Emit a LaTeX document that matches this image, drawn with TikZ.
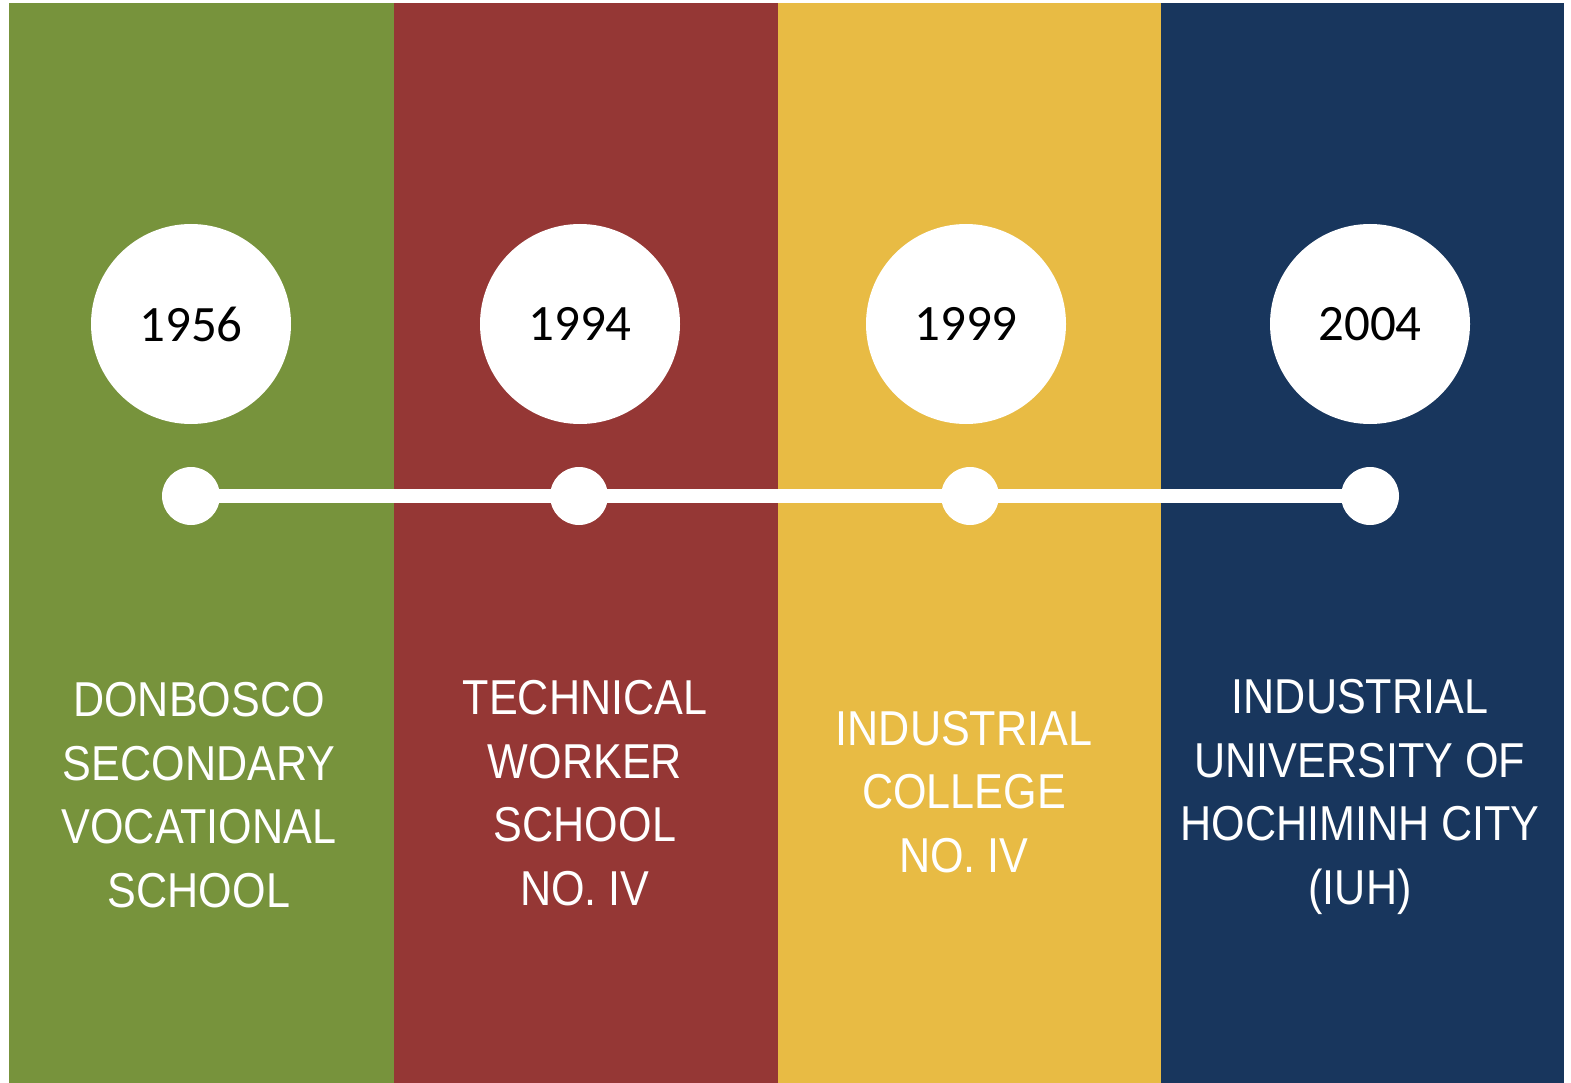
\documentclass[tikz,border=0pt]{standalone}
\usepackage{fontspec}
\newfontfamily\yearfont{Carlito}
\newfontfamily\narrowfont[FakeStretch=0.88]{Liberation Sans}
\definecolor{colgreen}{RGB}{119,147,60}
\definecolor{colred}{RGB}{149,55,53}
\definecolor{colgold}{RGB}{232,187,68}
\definecolor{colnavy}{RGB}{24,54,93}
\begin{document}
\begin{tikzpicture}[x=1pt,y=-1pt,
  year/.style={draw=none, circle, fill=white, minimum size=200pt, inner sep=0pt,
    font=\yearfont\fontsize{51}{60}\selectfont, text=black},
  dot/.style={circle, fill=white, minimum size=58pt, inner sep=0pt},
  label/.style={align=center, inner sep=0pt, text=white,
    font=\narrowfont\fontsize{49}{63.5}\selectfont}]
  \useasboundingbox (0,0) rectangle (1571,1083);

  % Columns
  \fill[colgreen] (9,3) rectangle (394,1083);
  \fill[colred] (394,3) rectangle (778,1083);
  \fill[colgold] (778,3) rectangle (1161,1083);
  \fill[colnavy] (1161,3) rectangle (1564,1083);

  % Year circles
  \node[year] (Y1) at (191,324) {1956};
  \node[year] (Y2) at (580,324) {1994};
  \node[year] (Y3) at (966,324) {1999};
  \node[year] (Y4) at (1370,324) {2004};

  % Timeline
  \node[dot] (D1) at (191,496) {};
  \node[dot] (D2) at (579,496) {};
  \node[dot] (D3) at (970,496) {};
  \node[dot] (D4) at (1370,496) {};
  \draw[white, line width=14.5pt] (D1.center) -- (D4.center);

  % Names
  \node[label] (N1) at (199,795) {DONBOSCO\\SECONDARY\\VOCATIONAL\\SCHOOL};
  \node[label] (N2) at (585,793) {TECHNICAL\\WORKER\\SCHOOL\\NO. IV};
  \node[label] (N3) at (964,792) {INDUSTRIAL\\COLLEGE\\NO. IV};
  \node[label] (N4) at (1360,797) {INDUSTRIAL\\UNIVERSITY OF\\HOCHIMINH CITY\\(IUH)};
\end{tikzpicture}
\end{document}
